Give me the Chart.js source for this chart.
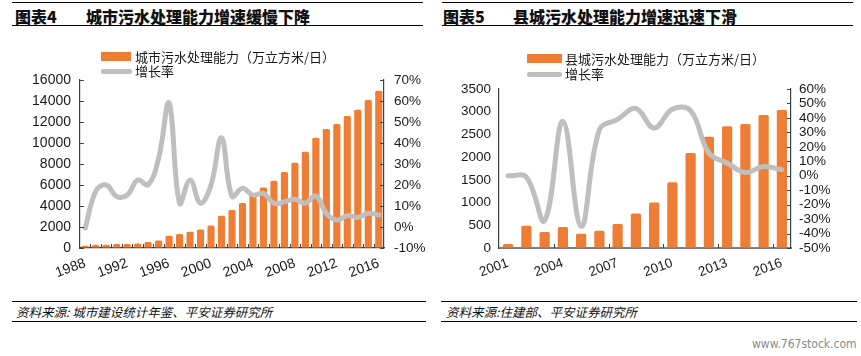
<!DOCTYPE html>
<html>
<head>
<meta charset="utf-8">
<script src="https://cdn.jsdelivr.net/npm/chart.js@4.4.1/dist/chart.umd.min.js"></script>
<style>
  html,body{margin:0;padding:0;background:#fff;}
  body{width:861px;height:356px;position:relative;overflow:hidden;font-family:"Liberation Sans",Arial,sans-serif;color:#1a1a1a;}
  .hr{position:absolute;height:0;border-top:1.6px solid #000;}
  .title{position:absolute;top:5px;font-family:"Noto Sans CJK SC",sans-serif;font-weight:900;font-size:16px;line-height:22px;white-space:nowrap;color:#111;}
  .legend{position:absolute;font-family:"Noto Sans CJK SC",sans-serif;font-size:13px;line-height:14px;white-space:nowrap;color:#1a1a1a;}
  .sw{position:absolute;}
  .src{position:absolute;top:303px;font-family:"Noto Sans CJK SC",sans-serif;font-size:12.5px;line-height:18px;font-style:italic;white-space:nowrap;color:#111;}
  .wrap{position:absolute;}
  .wm{position:absolute;left:752px;top:337px;font-family:"Liberation Sans Narrow","DejaVu Sans Condensed",sans-serif;font-size:12px;color:#8a8a8a;}
</style>
</head>
<body>
<!-- Left panel frame -->
<div class="hr" style="left:12px;width:411px;top:2px;"></div>
<div class="title" style="left:15px;">图表4</div>
<div class="title" style="left:86px;">城市污水处理能力增速缓慢下降</div>
<div class="hr" style="left:12px;width:411px;top:25px;"></div>

<!-- Right panel frame -->
<div class="hr" style="left:442px;width:411px;top:2px;"></div>
<div class="title" style="left:443px;">图表5</div>
<div class="title" style="left:513px;">县城污水处理能力增速迅速下滑</div>
<div class="hr" style="left:442px;width:411px;top:25px;"></div>

<div class="wrap" style="left:0;top:40px;width:430px;height:260px;"><canvas id="c1" width="430" height="260"></canvas></div>
<div class="wrap" style="left:430px;top:40px;width:431px;height:260px;"><canvas id="c2" width="431" height="260"></canvas></div>

<!-- Legends -->
<div class="sw" style="left:101px;top:52px;width:30px;height:9px;background:#EE7D35;"></div>
<div class="legend" style="left:135px;top:50px;">城市污水处理能力（万立方米/日）</div>
<div class="sw" style="left:101px;top:69px;width:31px;height:5px;background:#BFBFBF;border-radius:2px;"></div>
<div class="legend" style="left:135px;top:64px;">增长率</div>

<div class="sw" style="left:527px;top:54px;width:35px;height:9px;background:#EE7D35;"></div>
<div class="legend" style="left:565px;top:52px;">县城污水处理能力（万立方米/日）</div>
<div class="sw" style="left:527px;top:72px;width:35px;height:5px;background:#BFBFBF;border-radius:2px;"></div>
<div class="legend" style="left:565px;top:67px;">增长率</div>

<!-- Sources -->
<div class="hr" style="left:12px;width:414px;top:301px;"></div>
<div class="src" style="left:16px;">资料来源:&nbsp;城市建设统计年鉴、平安证券研究所</div>
<div class="hr" style="left:12px;width:414px;top:321px;"></div>

<div class="hr" style="left:441px;width:416px;top:301px;"></div>
<div class="src" style="left:446px;">资料来源:住建部、平安证券研究所</div>
<div class="hr" style="left:441px;width:416px;top:321px;"></div>

<div class="wm">www.767stock.com</div>

<script>
// ---------------- DATA ----------------
const cityYears = ['1988','1989','1990','1991','1992','1993','1994','1995','1996','1997','1998','1999','2000','2001','2002','2003','2004','2005','2006','2007','2008','2009','2010','2011','2012','2013','2014','2015','2016'];
const cityCapacity = [220,310,310,380,380,440,570,720,1170,1330,1550,1770,2150,3080,3620,4290,5080,5770,6410,7240,8120,9170,10500,11330,11810,12570,13170,14100,14980];
const cityGrowth = [-0.5,17,20,14.5,15.2,22.4,20,32.7,59,11.3,22.4,11.3,20,42.5,14.6,18.4,15.2,16,11.3,12,13.2,11.3,14.8,6.5,3.3,5.4,4.6,6.5,5.7];
const cityLeftTicks = {min:0, max:16000, step:2000};
const cityRightTicks = {min:-10, max:70, step:10};

const countyYears = ['2001','2002','2003','2004','2005','2006','2007','2008','2009','2010','2011','2012','2013','2014','2015','2016'];
const countyCapacity = [90,490,350,460,315,380,530,760,1000,1450,2090,2450,2680,2730,2930,3040];
const countyGrowth = [0,-1,-31,37.6,-35,31.8,39,46.5,33,46,45,15.7,8.8,2.3,6.4,4.2];
const countyLeftTicks = {min:0, max:3500, step:500};
const countyRightTicks = {min:-50, max:60, step:10};

const legendNames = {city:'城市污水处理能力（万立方米/日）', county:'县城污水处理能力（万立方米/日）', growth:'增长率'};

// ---------------- STYLE ----------------
const BAR = '#EE7D35';
const LINE = '#BFBFBF';
const AXIS = '#404040';
const TXT = '#1a1a1a';

// inward tick marks drawn on the library's scales
const innerTicks = {
  id:'innerTicks',
  afterDatasetsDraw(chart, args, opts){
    const ctx = chart.ctx;
    ctx.save();
    ctx.strokeStyle = opts.color || AXIS;
    ctx.lineWidth = 1;
    (opts.y || []).forEach(id => {
      const s = chart.scales[id];
      const left = s.position === 'left';
      const x = left ? s.right : s.left;
      const dir = left ? 1 : -1;
      s.ticks.forEach((t,i) => {
        const y = Math.round(s.getPixelForTick(i)) + 0.5;
        ctx.beginPath(); ctx.moveTo(x, y); ctx.lineTo(x + dir*4, y); ctx.stroke();
      });
    });
    if (opts.xEvery) {
      const s = chart.scales.x;
      const n = chart.data.labels.length;
      const yb = s.top;
      for (let i = 1; i < n; i++) {
        if (i % opts.xEvery !== 0) continue;
        const px = Math.round((s.getPixelForValue(i-1) + s.getPixelForValue(i))/2) + 0.5;
        ctx.beginPath(); ctx.moveTo(px, yb); ctx.lineTo(px, yb - 4); ctx.stroke();
      }
    }
    ctx.restore();
  }
};

function pct(v){ return v + '%'; }
function plain(v){ return String(v); }

function makeChart(id, cfg){
  return new Chart(document.getElementById(id), {
    data: {
      labels: cfg.labels,
      datasets: [
        { type:'line', label: legendNames.growth, data: cfg.growth, yAxisID:'y1', borderColor: LINE, borderWidth:5,
          pointRadius:0, tension:0.4, borderCapStyle:'round', borderJoinStyle:'round', fill:false, order:0 },
        { type:'bar', label: cfg.barName, data: cfg.bars, yAxisID:'y', backgroundColor: BAR,
          barPercentage: cfg.barPct, categoryPercentage:1, borderRadius:{topLeft:1.5,topRight:1.5}, borderSkipped:'bottom', order:1 }
      ]
    },
    options: {
      responsive:false, animation:false, maintainAspectRatio:false,
      layout:{ padding:{ top: cfg.padTop, left:0, right:0, bottom:0 } },
      plugins:{ legend:{display:false}, tooltip:{enabled:false}, innerTicks: cfg.inner },
      scales:{
        x:{
          offset:true,
          grid:{ display:true, drawOnChartArea:false, drawTicks:false, color:'rgba(0,0,0,0)' },
          border:{ display:true, color: cfg.xAxisColor, width: cfg.xAxisWidth },
          ticks:{ autoSkip:false, maxRotation:20, minRotation:20, padding:7, color:TXT,
                  font:{ family:'"Liberation Sans", Arial, sans-serif', size: cfg.xFont },
                  callback:(v,i)=> (i % cfg.labelEvery === 0 ? cfg.labels[i] : '') },
          afterFit:(s)=>{ s.height = cfg.xHeight; }
        },
        y:{
          position:'left', min: cfg.left.min, max: cfg.left.max,
          grid:{ display:true, drawOnChartArea:false, drawTicks:false, color:'rgba(0,0,0,0)' },
          border:{ display:true, color:AXIS, width:1.2 },
          ticks:{ stepSize: cfg.left.step, autoSkip:false, padding: cfg.yPadL, color:TXT, callback: plain,
                  font:{ family:'"Liberation Sans", Arial, sans-serif', size: cfg.yFontL } },
          afterFit:(s)=>{ s.width = cfg.leftW; }
        },
        y1:{
          position:'right', min: cfg.right.min, max: cfg.right.max,
          grid:{ display:true, drawOnChartArea:false, drawTicks:false, color:'rgba(0,0,0,0)' },
          border:{ display:true, color:AXIS, width:1.2 },
          ticks:{ stepSize: cfg.right.step, autoSkip:false, padding: cfg.yPadR, color:TXT, callback: pct,
                  font:{ family:'"Liberation Sans", Arial, sans-serif', size: cfg.yFontR } },
          afterFit:(s)=>{ s.width = cfg.rightW; }
        }
      }
    },
    plugins:[innerTicks]
  });
}

makeChart('c1', {
  labels: cityYears, bars: cityCapacity, growth: cityGrowth, barName: legendNames.city,
  left: cityLeftTicks, right: cityRightTicks,
  barPct: 0.68, padTop: 40, xHeight: 52, leftW: 80, rightW: 46,
  yPadL: 9, yPadR: 10, yFontL: 14, yFontR: 13.5, xFont: 14, labelEvery: 4,
  xAxisColor: AXIS, xAxisWidth: 1.2,
  inner: { y:['y','y1'], xEvery:1 }
});

makeChart('c2', {
  labels: countyYears, bars: countyCapacity, growth: countyGrowth, barName: legendNames.county,
  left: countyLeftTicks, right: countyRightTicks,
  barPct: 0.56, padTop: 49, xHeight: 52, leftW: 69, rightW: 70,
  yPadL: 8, yPadR: 8, yFontL: 13.5, yFontR: 13.5, xFont: 13.5, labelEvery: 3,
  xAxisColor: '#7f7f7f', xAxisWidth: 2,
  inner: { y:['y1'], xEvery:3 }
});
</script>
</body>
</html>
